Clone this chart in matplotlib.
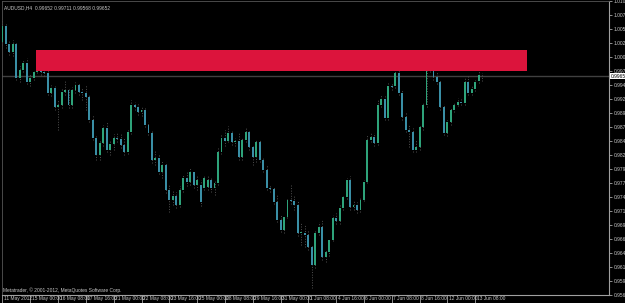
import numpy as np
import matplotlib.pyplot as plt
import matplotlib.transforms as mtransforms

plt.rcParams['font.family'] = ['Liberation Sans Narrow', 'Liberation Sans', 'DejaVu Sans']

# AUDUSD H4 candles
opens = [1.0028, 1.0057, 1.0024, 1.0009, 1.0024, 0.9962, 0.9977, 0.9989, 0.9955, 0.9962,
         0.9973, 0.9988, 0.9973, 0.9971, 0.9935, 0.9944, 0.9909, 0.9913, 0.9937, 0.9940,
         0.9913, 0.9940, 0.9949, 0.9937, 0.9935, 0.9927, 0.9886, 0.9853, 0.9822, 0.9844,
         0.9871, 0.9831, 0.9842, 0.9853, 0.9851, 0.9840, 0.9827, 0.9864, 0.9913, 0.9909,
         0.9900, 0.9904, 0.9877, 0.9862, 0.9813, 0.9816, 0.9791, 0.9804, 0.9758, 0.9740,
         0.9747, 0.9731, 0.9758, 0.9780, 0.9773, 0.9791, 0.9767, 0.9767, 0.9762, 0.9764,
         0.9776, 0.9762, 0.9771, 0.9827, 0.9853, 0.9847, 0.9862, 0.9846, 0.9847, 0.9818,
         0.9849, 0.9864, 0.9836, 0.9818, 0.9846, 0.9813, 0.9795, 0.9762, 0.9760, 0.9736,
         0.9704, 0.9685, 0.9709, 0.9740, 0.9738, 0.9731, 0.9680, 0.9680, 0.9676, 0.9654,
         0.9622, 0.9680, 0.9691, 0.9636, 0.9644, 0.9667, 0.9707, 0.9702, 0.9725, 0.9745,
         0.9776, 0.9727, 0.9731, 0.9722, 0.9740, 0.9773, 0.9849, 0.9855, 0.9844, 0.9913,
         0.9924, 0.9889, 0.9947, 0.9947, 0.9971, 0.9935, 0.9891, 0.9867, 0.9864, 0.9831,
         0.9836, 0.9873, 0.9913, 0.9986, 0.9978, 0.9964, 0.9955, 0.9909, 0.9862, 0.9882,
         0.9904, 0.9913, 0.9918, 0.9917, 0.9955, 0.9935, 0.9942, 0.9957, 0.99652]
highs = [1.0068, 1.0060, 1.0029, 1.0031, 1.0028, 0.9984, 0.9995, 0.9998, 0.9969, 0.9977,
         0.9993, 0.9991, 0.9984, 0.9977, 0.9949, 0.9947, 0.9922, 0.9944, 0.9958, 0.9944,
         0.9946, 0.9955, 0.9953, 0.9944, 0.9949, 0.9931, 0.9895, 0.9856, 0.9849, 0.9877,
         0.9882, 0.9849, 0.9860, 0.9864, 0.9862, 0.9853, 0.9867, 0.9922, 0.9918, 0.9915,
         0.9911, 0.9909, 0.9882, 0.9867, 0.9831, 0.9822, 0.9813, 0.9809, 0.9767, 0.9758,
         0.9755, 0.9765, 0.9787, 0.9791, 0.9798, 0.9795, 0.9784, 0.9776, 0.9784, 0.9784,
         0.9780, 0.9776, 0.9835, 0.9858, 0.9867, 0.9875, 0.9867, 0.9853, 0.9864, 0.9853,
         0.9871, 0.9867, 0.9840, 0.9849, 0.9849, 0.9816, 0.9804, 0.9767, 0.9765, 0.9749,
         0.9713, 0.9713, 0.9744, 0.9767, 0.9749, 0.9740, 0.9700, 0.9695, 0.9685, 0.9658,
         0.9685, 0.9700, 0.9704, 0.9649, 0.9671, 0.9713, 0.9715, 0.9731, 0.9749, 0.9780,
         0.9784, 0.9740, 0.9735, 0.9744, 0.9776, 0.9858, 0.9862, 0.9862, 0.9922, 0.9931,
         0.9929, 0.9953, 0.9953, 0.9995, 1.0000, 0.9940, 0.9900, 0.9877, 0.9871, 0.9849,
         0.9877, 0.9917, 1.0008, 0.9995, 0.9986, 0.9973, 0.9958, 0.9915, 0.9886, 0.9907,
         0.9917, 0.9926, 0.9924, 0.9962, 0.9966, 0.9947, 0.9958, 0.9986, 0.99711]
lows = [1.0022, 1.0017, 1.0004, 1.0002, 0.9958, 0.9955, 0.9973, 0.9951, 0.9947, 0.9958,
        0.9971, 0.9968, 0.9966, 0.9931, 0.9929, 0.9904, 0.9867, 0.9907, 0.9931, 0.9907,
        0.9907, 0.9935, 0.9931, 0.9922, 0.9904, 0.9882, 0.9849, 0.9813, 0.9813, 0.9838,
        0.9827, 0.9822, 0.9831, 0.9846, 0.9835, 0.9822, 0.9824, 0.9860, 0.9904, 0.9895,
        0.9893, 0.9873, 0.9858, 0.9807, 0.9804, 0.9786, 0.9780, 0.9753, 0.9718, 0.9731,
        0.9725, 0.9727, 0.9755, 0.9765, 0.9767, 0.9762, 0.9758, 0.9729, 0.9758, 0.9758,
        0.9755, 0.9749, 0.9767, 0.9824, 0.9838, 0.9846, 0.9840, 0.9838, 0.9813, 0.9813,
        0.9846, 0.9831, 0.9804, 0.9809, 0.9809, 0.9791, 0.9758, 0.9755, 0.9733, 0.9700,
        0.9682, 0.9680, 0.9707, 0.9733, 0.9722, 0.9674, 0.9658, 0.9654, 0.9649, 0.9580,
        0.9616, 0.9676, 0.9631, 0.9627, 0.9638, 0.9664, 0.9696, 0.9696, 0.9722, 0.9742,
        0.9722, 0.9722, 0.9716, 0.9718, 0.9738, 0.9771, 0.9846, 0.9838, 0.9840, 0.9909,
        0.9886, 0.9886, 0.9940, 0.9944, 0.9931, 0.9886, 0.9864, 0.9836, 0.9827, 0.9827,
        0.9831, 0.9867, 0.9909, 0.9973, 0.9958, 0.9951, 0.9904, 0.9858, 0.9856, 0.9877,
        0.9900, 0.9911, 0.9913, 0.9913, 0.9931, 0.9931, 0.9938, 0.9953, 0.99568]
closes = [1.0057, 1.0024, 1.0009, 1.0024, 0.9962, 0.9977, 0.9989, 0.9955, 0.9962, 0.9973,
          0.9988, 0.9973, 0.9971, 0.9935, 0.9944, 0.9909, 0.9913, 0.9937, 0.9940, 0.9913,
          0.9940, 0.9949, 0.9937, 0.9935, 0.9927, 0.9886, 0.9853, 0.9822, 0.9844, 0.9871,
          0.9831, 0.9842, 0.9853, 0.9851, 0.9840, 0.9827, 0.9864, 0.9913, 0.9909, 0.9900,
          0.9904, 0.9877, 0.9862, 0.9813, 0.9816, 0.9791, 0.9804, 0.9758, 0.9740, 0.9747,
          0.9731, 0.9758, 0.9780, 0.9773, 0.9791, 0.9767, 0.9776, 0.9735, 0.9780, 0.9776,
          0.9762, 0.9771, 0.9827, 0.9853, 0.9847, 0.9862, 0.9846, 0.9847, 0.9818, 0.9849,
          0.9864, 0.9836, 0.9818, 0.9846, 0.9813, 0.9795, 0.9762, 0.9760, 0.9736, 0.9704,
          0.9685, 0.9709, 0.9740, 0.9738, 0.9731, 0.9680, 0.9682, 0.9676, 0.9654, 0.9622,
          0.9680, 0.9691, 0.9636, 0.9644, 0.9667, 0.9707, 0.9702, 0.9725, 0.9745, 0.9776,
          0.9727, 0.9731, 0.9722, 0.9740, 0.9773, 0.9849, 0.9855, 0.9844, 0.9913, 0.9924,
          0.9889, 0.9947, 0.9946, 0.9971, 0.9935, 0.9891, 0.9867, 0.9864, 0.9831, 0.9836,
          0.9873, 0.9913, 0.9986, 0.9978, 0.9964, 0.9955, 0.9909, 0.9862, 0.9882, 0.9904,
          0.9913, 0.9918, 0.9917, 0.9955, 0.9935, 0.9942, 0.9955, 0.9968, 0.99652]

date_labels = ['11 May 2012', '15 May 00:00', '16 May 08:00', '17 May 16:00', '21 May 00:00',
               '22 May 08:00', '23 May 16:00', '25 May 00:00', '28 May 08:00', '29 May 16:00',
               '31 May 00:00', '1 Jun 08:00', '4 Jun 16:00', '6 Jun 00:00', '7 Jun 08:00',
               '8 Jun 16:00', '12 Jun 00:00', '13 Jun 08:00']
bars_per_label = 8

# resistance zone drawn on the chart
zone_top = 1.0013
zone_bottom = 0.9974
zone_start = 9.6
zone_end = 150.9

price_step = 0.00255
symbol = 'AUDUSD,H4'

bull_col = '#2ea37a'
bear_col = '#3a8fa6'
wick_col = '#505050'
txt_col = '#c8c8c8'
fs = 3.5

n = len(closes)
x = np.arange(n)
o = np.array(opens)
c = np.array(closes)
h = np.array(highs)
l = np.array(lows)

fig = plt.figure(figsize=(6.25, 3.03), dpi=100, facecolor='black')
ax = fig.add_axes([2 / 625, 8 / 303, 607 / 625, 294 / 303], facecolor='black')

ax.vlines(x, l, h, color=wick_col, linestyles=':', linewidth=0.7, zorder=2)
up = c >= o
body_bottom = np.minimum(o, c)
body_h = np.maximum(np.abs(c - o), 0.00004)
ax.bar(x[up], body_h[up], bottom=body_bottom[up], width=0.55, color=bull_col, linewidth=0, zorder=3)
ax.bar(x[~up], body_h[~up], bottom=body_bottom[~up], width=0.55, color=bear_col, linewidth=0, zorder=3)

# rectangle zone
ax.fill_between([zone_start, zone_end], zone_bottom, zone_top, color='#dc143c', linewidth=0, zorder=4)

# current price line
ax.axhline(c[-1], color='#404040', linewidth=1.0, zorder=1)

ax.set_xlim(-0.14, 174.5)
ax.set_ylim(0.95665, 1.0102)

yt = 1.0 + price_step * np.arange(-17, 5)
ax.yaxis.tick_right()
ax.set_yticks(yt)
ax.set_yticklabels(['%.5f' % v for v in yt])
ax.tick_params(axis='y', colors=txt_col, labelsize=fs, length=2, width=0.5, pad=1.5)

xt = np.arange(len(date_labels)) * bars_per_label
ax.set_xticks(xt)
ax.set_xticklabels(date_labels, ha='left')
ax.tick_params(axis='x', colors=txt_col, labelsize=fs, length=6, width=0.5, pad=-5.2)
shift = mtransforms.ScaledTranslation(1.5 / 100, 0, fig.dpi_scale_trans)
for lab in ax.get_xticklabels():
    lab.set_transform(lab.get_transform() + shift)

for side in ['left', 'top']:
    ax.spines[side].set_color('#555555')
    ax.spines[side].set_linewidth(0.6)
for side in ['right', 'bottom']:
    ax.spines[side].set_color('#a0a0a0')
    ax.spines[side].set_linewidth(0.8)

# current price tag on the price scale
trans = mtransforms.blended_transform_factory(ax.transAxes, ax.transData)
ax.text(1.003, c[-1], '%.5f' % c[-1], transform=trans, fontsize=fs, color='black', va='center', ha='left',
        bbox=dict(boxstyle='square,pad=0.15', facecolor='white', edgecolor='none'), zorder=10, clip_on=False)

ax.text(0.003, 0.985, '%s  %.5f %.5f %.5f %.5f' % (symbol, o[-1], h[-1], l[-1], c[-1]),
        transform=ax.transAxes, fontsize=fs, color=txt_col, va='top', ha='left')
ax.text(0.002, 0.008, 'Metatrader, © 2001-2012, MetaQuotes Software Corp.',
        transform=ax.transAxes, fontsize=fs, color=txt_col, va='bottom', ha='left')

fig.savefig('out.png', dpi=100, facecolor='black')
